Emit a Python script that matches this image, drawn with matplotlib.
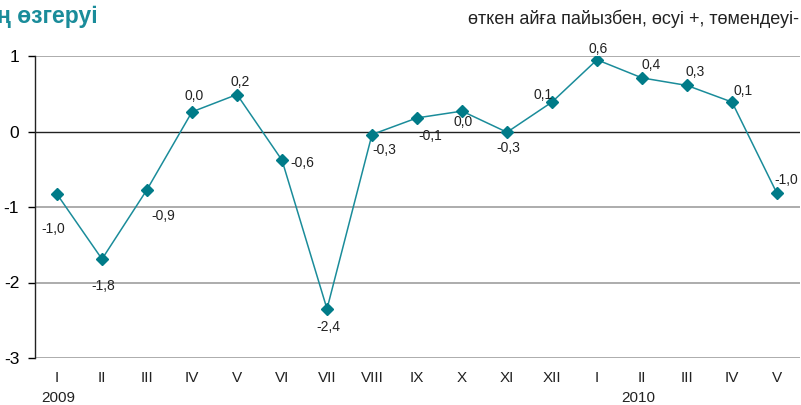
import matplotlib
matplotlib.use("Agg")
import matplotlib.pyplot as plt

plt.rcParams['font.family'] = ['Liberation Sans', 'DejaVu Sans']

months = ["I", "II", "III", "IV", "V", "VI", "VII", "VIII", "IX", "X", "XI", "XII",
          "I", "II", "III", "IV", "V"]
values = [-0.83, -1.69, -0.77, 0.26, 0.49, -0.38, -2.35, -0.04, 0.18, 0.27, -0.01, 0.39,
          0.95, 0.71, 0.61, 0.39, -0.82]
labels = ["-1,0", "-1,8", "-0,9", "0,0", "0,2", "-0,6", "-2,4", "-0,3", "-0,1", "0,0", "-0,3",
          "0,1", "0,6", "0,4", "0,3", "0,1", "-1,0"]
years = ["2009", "2010"]

# label offsets in pixels (dx, dy downward)
offs = [(-4, 35), (1, 27), (16, 26), (2, -16), (3, -13), (20, 3), (1, 18), (12, 15),
        (13, 18), (1, 11), (1, 16), (-9, -7), (1, -11), (9, -13), (8, -13), (11, -11), (9, -13)]

teal = "#007b88"

fig = plt.figure(figsize=(8.01, 4.05), dpi=100)
W, H = 801, 405
ax = fig.add_axes([34.5 / W, 1 - 358 / H, 765 / W, (358 - 56) / H])

x = list(range(len(values)))
ax.plot(x, values, color="#1a8c9a", lw=1.1, marker="D", ms=6.5, mfc=teal, mec=teal, zorder=3)

for i, (v, lab) in enumerate(zip(values, labels)):
    dx, dy = offs[i]
    ax.annotate(lab, (i, v), xytext=(dx * 0.72, -dy * 0.72), textcoords="offset points",
                ha="center", va="center", fontsize=10, color="#222222")

ax.set_xlim(-0.5, 16.5)
ax.set_ylim(-3, 1)
ax.set_yticks([-3, -2, -1, 0, 1])
ax.set_yticklabels(["-3", "-2", "-1", "0", "1"], fontsize=12.5)
ax.set_xticks(x)
ax.set_xticklabels(months, fontsize=11, color="#222222")
ax.tick_params(axis="x", length=0, pad=9)
ax.tick_params(axis="y", length=5, width=1, direction="out", pad=6)

for yv in [-3, -2, -1, 1]:
    ax.axhline(yv, color="#a6a6a6", lw=1.3, zorder=1)
ax.axhline(0, color="#222222", lw=1.0, zorder=2)

for s in ["top", "right", "bottom"]:
    ax.spines[s].set_visible(False)
ax.spines["left"].set_color("#222222")
ax.spines["left"].set_linewidth(1.0)

fig.text(58 / W, 1 - 398 / H, years[0], ha="center", va="center", fontsize=11, color="#222222")
fig.text(638 / W, 1 - 398 / H, years[1], ha="center", va="center", fontsize=11, color="#222222")

fig.text(-3 / W, 1 - 17 / H, "ң өзгеруі", ha="left", va="center", fontsize=16.5,
         fontweight="bold", color="#1a8c9a")
fig.text(799 / W, 1 - 19 / H, "өткен айға пайызбен, өсуі +, төмендеуі-", ha="right",
         va="center", fontsize=13, color="#222222")

fig.savefig("out.png", dpi=100)
